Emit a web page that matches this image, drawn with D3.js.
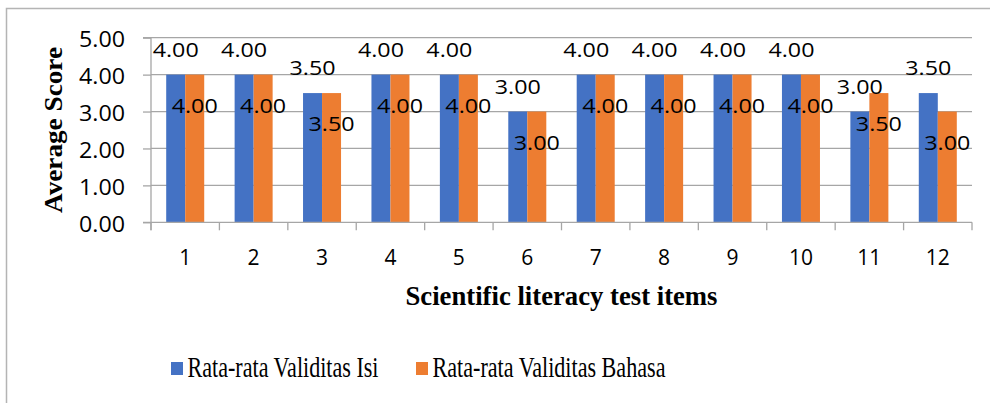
<!DOCTYPE html>
<html>
<head>
<meta charset="utf-8">
<script src="https://cdn.jsdelivr.net/npm/d3@7"></script>
<style>
  html, body { margin: 0; padding: 0; background: #fff; }
  svg { display: block; }
</style>
</head>
<body>
<div id="chart"></div>
<script>
// data
const items = ["1", "2", "3", "4", "5", "6", "7", "8", "9", "10", "11", "12"];
const validitasIsi = [4.0, 4.0, 3.5, 4.0, 4.0, 3.0, 4.0, 4.0, 4.0, 4.0, 3.0, 3.5];
const validitasBahasa = [4.0, 4.0, 3.5, 4.0, 4.0, 3.0, 4.0, 4.0, 4.0, 4.0, 3.5, 3.0];
const seriesNames = ["Rata-rata Validitas Isi", "Rata-rata Validitas Bahasa"];
const seriesColors = ["#4472C4", "#ED7D31"];
const yTicks = [0, 1, 2, 3, 4, 5];

const width = 990, height = 403;
const numFont = "'Open Sans', 'Noto Sans', sans-serif";
const serif = "'Liberation Serif', 'Times New Roman', serif";
const axisGray = "#a6a6a6";

const svg = d3.select("#chart").append("svg")
  .attr("width", width)
  .attr("height", height);

// outer chart frame (runs off the right/bottom edge like the reference)
svg.append("rect")
  .attr("x", 6.5).attr("y", 8.5)
  .attr("width", 1000).attr("height", 500)
  .attr("fill", "none")
  .attr("stroke", "#b4b4b4")
  .attr("stroke-width", 1.5);

// scales
const x0 = d3.scaleBand().domain(items).range([151, 972]).padding(0);
const x1 = d3.scaleBand().domain([0, 1]).range([0, x0.bandwidth()])
  .paddingInner(0).paddingOuter(0.8);
const y = d3.scaleLinear().domain([0, 5]).range([222.3, 37.7]);

// gridlines
svg.append("g")
  .selectAll("line")
  .data(yTicks.filter(d => d > 0))
  .join("line")
  .attr("x1", 151).attr("x2", 972)
  .attr("y1", d => y(d)).attr("y2", d => y(d))
  .attr("stroke", axisGray)
  .attr("stroke-width", 1.3);

// bars
const rows = items.map((k, i) => ({ key: k, vals: [validitasIsi[i], validitasBahasa[i]] }));

const groups = svg.append("g")
  .selectAll("g")
  .data(rows)
  .join("g")
  .attr("transform", d => `translate(${x0(d.key)},0)`);

groups.selectAll("rect")
  .data(d => d.vals.map((v, s) => ({ v, s })))
  .join("rect")
  .attr("x", d => x1(d.s))
  .attr("width", x1.bandwidth())
  .attr("y", d => y(d.v))
  .attr("height", d => y(0) - y(d.v))
  .attr("fill", d => seriesColors[d.s]);

// y axis
const yAxis = d3.axisLeft(y)
  .tickValues(yTicks)
  .tickSize(8)
  .tickPadding(18)
  .tickFormat(d3.format(".2f"));

const gy = svg.append("g")
  .attr("transform", "translate(151,0)")
  .call(yAxis);
gy.select(".domain").attr("stroke", axisGray).attr("stroke-width", 1.3)
  .attr("d", `M-8,${y(5)}H0V${y(0) + 8}`);
gy.selectAll(".tick line").attr("stroke", axisGray).attr("stroke-width", 1.3);
gy.selectAll(".tick text")
  .attr("font-family", numFont)
  .attr("font-size", 21)
  .attr("fill", "#000")
  .attr("dy", null)
  .attr("y", 9)
  .attr("textLength", 46)
  .attr("lengthAdjust", "spacingAndGlyphs");

// x axis with ticks on the category boundaries
const xAxisLine = svg.append("g");
xAxisLine.append("line")
  .attr("x1", 143).attr("x2", 972)
  .attr("y1", y(0)).attr("y2", y(0))
  .attr("stroke", axisGray).attr("stroke-width", 1.3);
const boundaries = items.map(k => x0(k)).concat([x0.range()[1]]);
xAxisLine.selectAll("line.tk")
  .data(boundaries)
  .join("line")
  .attr("class", "tk")
  .attr("x1", d => d).attr("x2", d => d)
  .attr("y1", y(0)).attr("y2", y(0) + 8)
  .attr("stroke", axisGray).attr("stroke-width", 1.3);

svg.append("g")
  .selectAll("text")
  .data(items)
  .join("text")
  .attr("x", d => x0(d) + x0.bandwidth() / 2)
  .attr("y", 265)
  .attr("text-anchor", "middle")
  .attr("font-family", numFont)
  .attr("font-size", 21)
  .text(d => d);

// data labels: first series above bar, second series inside top
groups.selectAll("text")
  .data(d => d.vals.map((v, s) => ({ v, s })))
  .join("text")
  .attr("x", d => x1(d.s) + x1.bandwidth() / 2)
  .attr("y", d => d.s === 0 ? y(d.v) - 18 : y(d.v) + 38)
  .attr("text-anchor", "middle")
  .attr("font-family", numFont)
  .attr("font-size", 20)
  .attr("textLength", 46)
  .attr("lengthAdjust", "spacingAndGlyphs")
  .text(d => d.v.toFixed(2));

// axis titles
svg.append("text")
  .attr("transform", "translate(62,130) rotate(-90)")
  .attr("text-anchor", "middle")
  .attr("font-family", serif)
  .attr("font-weight", "bold")
  .attr("font-size", 26)
  .attr("textLength", 166)
  .attr("lengthAdjust", "spacingAndGlyphs")
  .text("Average Score");

svg.append("text")
  .attr("x", 561.5)
  .attr("y", 305)
  .attr("text-anchor", "middle")
  .attr("font-family", serif)
  .attr("font-weight", "bold")
  .attr("font-size", 27)
  .attr("textLength", 312)
  .attr("lengthAdjust", "spacingAndGlyphs")
  .text("Scientific literacy test items");

// legend
const legendX = [171, 416];
const legendW = [191, 233];
const legend = svg.append("g")
  .selectAll("g")
  .data(seriesNames)
  .join("g")
  .attr("transform", (d, i) => `translate(${legendX[i]},362)`);
legend.append("rect")
  .attr("width", 12).attr("height", 13)
  .attr("fill", (d, i) => seriesColors[i]);
legend.append("text")
  .attr("x", 16.5)
  .attr("y", 14.8)
  .attr("font-family", serif)
  .attr("font-size", 29)
  .attr("textLength", (d, i) => legendW[i])
  .attr("lengthAdjust", "spacingAndGlyphs")
  .text(d => d);
</script>
</body>
</html>
